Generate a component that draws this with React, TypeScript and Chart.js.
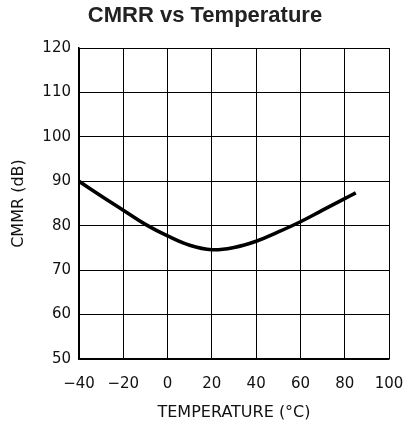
import React, { useEffect, useRef } from "react";
import { Chart, registerables } from "chart.js";

Chart.register(...registerables);

const temperatures = [-40, -30, -20, -10, 0, 10, 20, 30, 40, 50, 60, 70, 80, 85];
const cmrrValues = [90, 86.7, 83.5, 80.3, 77.7, 75.6, 74.6, 75.1, 76.5, 78.6, 80.9, 83.5, 86.1, 87.4];
const chartTitle = "CMRR vs Temperature";
const xTitle = "TEMPERATURE (°C)";
const yTitle = "CMMR (dB)";

const titlePlugin = {
  id: "customTitle",
  afterDraw(chart: any) {
    const ctx = chart.ctx;
    ctx.save();
    ctx.font = "bold 22px 'Liberation Sans', Arial, sans-serif";
    ctx.fillStyle = "#222";
    ctx.textAlign = "center";
    ctx.textBaseline = "middle";
    ctx.fillText(chartTitle, 205, 16);
    ctx.restore();
  },
};

export default function App() {
  const ref = useRef<HTMLCanvasElement | null>(null);
  useEffect(() => {
    if (!ref.current) return;
    const tickFont = { family: "'DejaVu Sans', sans-serif", size: 15 };
    const chart = new Chart(ref.current, {
      type: "line",
      data: {
        datasets: [
          {
            data: temperatures.map((t, i) => ({ x: t, y: cmrrValues[i] })),
            borderColor: "#000",
            borderWidth: 3.5,
            pointRadius: 0,
            tension: 0.4,
            fill: false,
          },
        ],
      },
      options: {
        responsive: false,
        animation: false,
        layout: { padding: { top: 48, right: 17, left: 0, bottom: 0 } },
        plugins: {
          legend: { display: false },
          tooltip: { enabled: false },
          title: { display: false },
        },
        scales: {
          x: {
            type: "linear",
            min: -40,
            max: 100,
            ticks: {
              stepSize: 20,
              color: "#111",
              font: tickFont,
              padding: 16,
              maxRotation: 0,
              callback: (v: any) => (v < 0 ? "\u2212" + Math.abs(v) : String(v)),
            },
            grid: { color: "#000", lineWidth: 1, drawTicks: false },
            border: { color: "#000", width: 1.5 },
            title: {
              display: true,
              text: xTitle,
              color: "#111",
              font: { family: "'DejaVu Sans', sans-serif", size: 16 },
              padding: { top: 0, bottom: 7 },
            },
            afterFit: (s: any) => {
              s.height = 70;
              s.paddingLeft = 0;
              s.paddingRight = 0;
            },
          },
          y: {
            min: 50,
            max: 120,
            ticks: {
              stepSize: 10,
              color: "#111",
              font: tickFont,
              padding: 8,
            },
            grid: { color: "#000", lineWidth: 1, drawTicks: false },
            border: { color: "#000", width: 1.5 },
            title: {
              display: true,
              text: yTitle,
              color: "#111",
              font: { family: "'DejaVu Sans', sans-serif", size: 16 },
              padding: { top: 9, bottom: 0 },
            },
            afterFit: (s: any) => {
              s.width = 79;
              s.paddingTop = 0;
              s.paddingBottom = 0;
            },
          },
        },
      },
      plugins: [titlePlugin],
    } as any);
    return () => chart.destroy();
  }, []);
  return (
    <div style={{ position: "fixed", left: 0, top: 0, width: 406, height: 429, background: "#fff" }}>
      <canvas ref={ref} width={406} height={429} />
    </div>
  );
}
